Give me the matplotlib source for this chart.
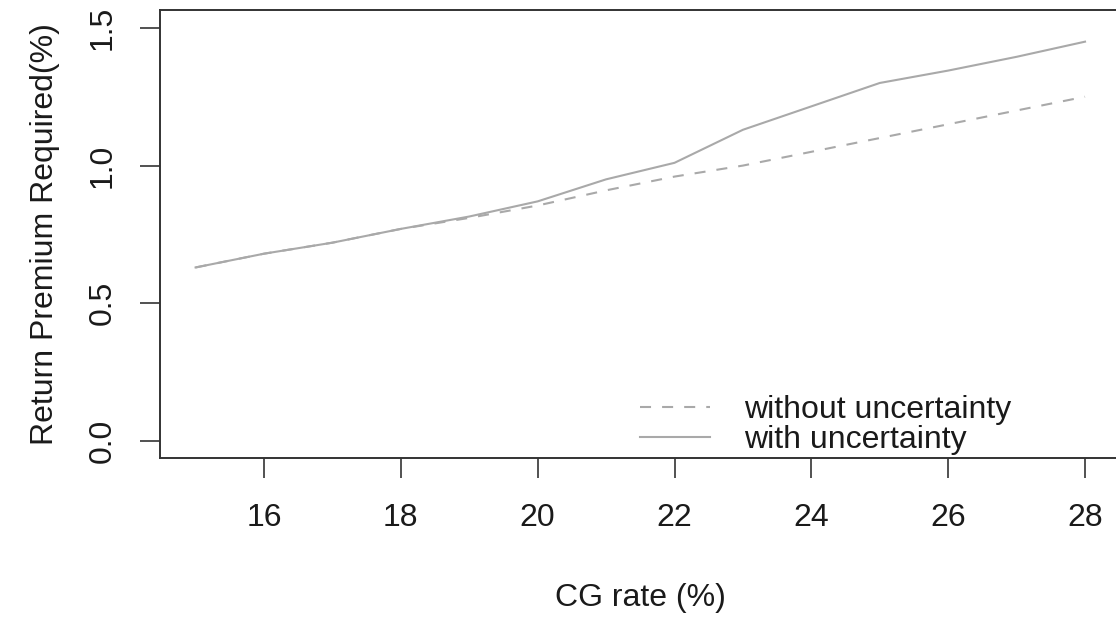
import matplotlib
matplotlib.use("Agg")
import matplotlib.pyplot as plt

# CG rate (%)
cg_rate = [15, 16, 17, 18, 19, 20, 21, 22, 23, 24, 25, 26, 27, 28]
# return premium required (%)
without_unc = [0.63, 0.68, 0.72, 0.77, 0.81, 0.855, 0.91, 0.96, 1.00, 1.05, 1.10, 1.15, 1.20, 1.25]
with_unc = [0.63, 0.68, 0.72, 0.77, 0.815, 0.87, 0.95, 1.01, 1.13, 1.215, 1.30, 1.345, 1.395, 1.45]

x_ticks = [16, 18, 20, 22, 24, 26, 28]
y_ticks = [0.0, 0.5, 1.0, 1.5]

plt.rcParams['font.family'] = ['Liberation Sans', 'DejaVu Sans']
fs = 23
txt = '#1a1a1a'
line_col = '#a9a9a9'

fig = plt.figure(figsize=(11.16, 6.17), dpi=100)
ax = fig.add_axes([160 / 1116, 159 / 617, 960.6 / 1116, 448 / 617])

ax.plot(cg_rate, without_unc, color=line_col, lw=1.5, dashes=(5.3, 5.3),
        label='without uncertainty')
ax.plot(cg_rate, with_unc, color=line_col, lw=1.5, label='with uncertainty')

ax.set_xlim(14.48, 28.52)
ax.set_ylim(-0.062, 1.565)
ax.set_xticks(x_ticks)
ax.set_xticklabels([str(t) for t in x_ticks])
ax.set_yticks(y_ticks)
ax.set_yticklabels(['%.1f' % t for t in y_ticks], rotation=90, va='center')

for s in ax.spines.values():
    s.set_color('#333333')
    s.set_linewidth(1.4)
ax.tick_params(axis='both', length=14.4, width=1.2, color='#333333',
               labelsize=fs, labelcolor=txt)
ax.tick_params(axis='x', pad=18)
ax.tick_params(axis='y', pad=16)

ax.set_xlabel('CG rate (%)', fontsize=fs, color=txt, labelpad=36)
ax.set_ylabel('Return Premium Required(%)', fontsize=fs, color=txt, labelpad=20)

ax.legend(loc='lower left', bbox_to_anchor=(640 / 1116, (617 - 455) / 617),
          bbox_transform=fig.transFigure, frameon=False, fontsize=fs,
          handlelength=2.2, handletextpad=1.05, borderpad=0, borderaxespad=0,
          labelspacing=0.0, labelcolor=txt)

fig.savefig('out.png', dpi=100)
